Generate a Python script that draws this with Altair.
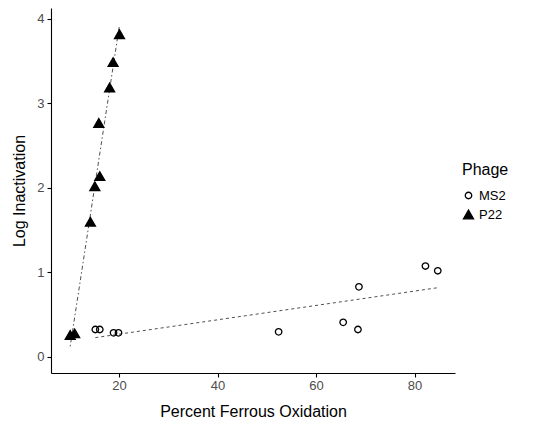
import altair as alt
import pandas as pd

# Data
ms2_x = [15.2, 16.1, 18.9, 19.9, 52.4, 65.5, 68.5, 68.7, 82.2, 84.7]
ms2_y = [0.325, 0.325, 0.285, 0.285, 0.297, 0.41, 0.325, 0.83, 1.076, 1.02]
p22_x = [10.1, 11.0, 14.2, 15.1, 16.1, 15.9, 18.1, 18.8, 20.1]
p22_y = [0.26, 0.28, 1.60, 2.02, 2.14, 2.77, 3.19, 3.49, 3.82]
phages = ["MS2", "P22"]
x_ticks = [20, 40, 60, 80]
y_ticks = [0, 1, 2, 3, 4]

df = pd.DataFrame({
    "x": ms2_x + p22_x,
    "y": ms2_y + p22_y,
    "Phage": [phages[0]] * len(ms2_x) + [phages[1]] * len(p22_x),
})

FONT = "Liberation Sans"
xscale = alt.Scale(domain=[6.2, 88.2], nice=False, zero=False)
yscale = alt.Scale(domain=[-0.19, 4.13], nice=False, zero=False)

xaxis = alt.Axis(values=x_ticks, format="d", title="Percent Ferrous Oxidation", grid=False,
                 domainColor="black", domainWidth=1.1, tickColor="black", tickWidth=1.1,
                 tickSize=4, labelColor="#4D4D4D", labelFontSize=13, labelFont=FONT,
                 labelPadding=2, titleFont=FONT, titleFontSize=16, titleFontWeight="normal",
                 titleColor="black", titlePadding=11)
yaxis = alt.Axis(values=y_ticks, format="d", title="Log Inactivation", grid=False,
                 domainColor="black", domainWidth=1.1, tickColor="black", tickWidth=1.1,
                 tickSize=4, labelColor="#4D4D4D", labelFontSize=13, labelFont=FONT,
                 labelPadding=3, titleFont=FONT, titleFontSize=16, titleFontWeight="normal",
                 titleColor="black", titlePadding=9)

base = alt.Chart(df)

leg = alt.Legend(title="Phage")
points = base.mark_point(opacity=1, strokeWidth=1.3).encode(
    x=alt.X("x:Q", scale=xscale, axis=xaxis),
    y=alt.Y("y:Q", scale=yscale, axis=yaxis),
    shape=alt.Shape("Phage:N", scale=alt.Scale(domain=phages, range=["circle", "triangle-up"]),
                    legend=leg),
    size=alt.Size("Phage:N", scale=alt.Scale(domain=phages, range=[42, 100]), legend=leg),
    fill=alt.Fill("Phage:N", scale=alt.Scale(domain=phages, range=["transparent", "black"]),
                  legend=leg),
    stroke=alt.Stroke("Phage:N", scale=alt.Scale(domain=phages, range=["black", "black"]),
                      legend=leg),
)

line_ms2 = base.transform_filter(alt.datum.Phage == "MS2").transform_regression(
    "x", "y").mark_line(color="#222222", strokeWidth=0.8, strokeDash=[3, 3]).encode(
    x=alt.X("x:Q", scale=xscale), y=alt.Y("y:Q", scale=yscale))

line_p22 = base.transform_filter(alt.datum.Phage == "P22").transform_regression(
    "x", "y").mark_line(color="#222222", strokeWidth=0.8, strokeDash=[1.5, 2.5, 4, 2.5]).encode(
    x=alt.X("x:Q", scale=xscale), y=alt.Y("y:Q", scale=yscale))

chart = alt.layer(line_ms2, line_p22, points).properties(
    width=404, height=365,
    autosize=alt.AutoSizeParams(type="none"),
    padding={"left": 43, "top": 0, "right": 93, "bottom": 48},
).configure_view(stroke=None).configure_legend(
    orient="none", legendX=411, legendY=154,
    titleFont=FONT, titleFontSize=16, titleFontWeight="normal", titleColor="black",
    labelFont=FONT, labelFontSize=13, labelColor="black",
    symbolStrokeWidth=1.3, rowPadding=4, titlePadding=11,
)

chart.save("out.html", embed_options={"renderer": "svg", "actions": False})
